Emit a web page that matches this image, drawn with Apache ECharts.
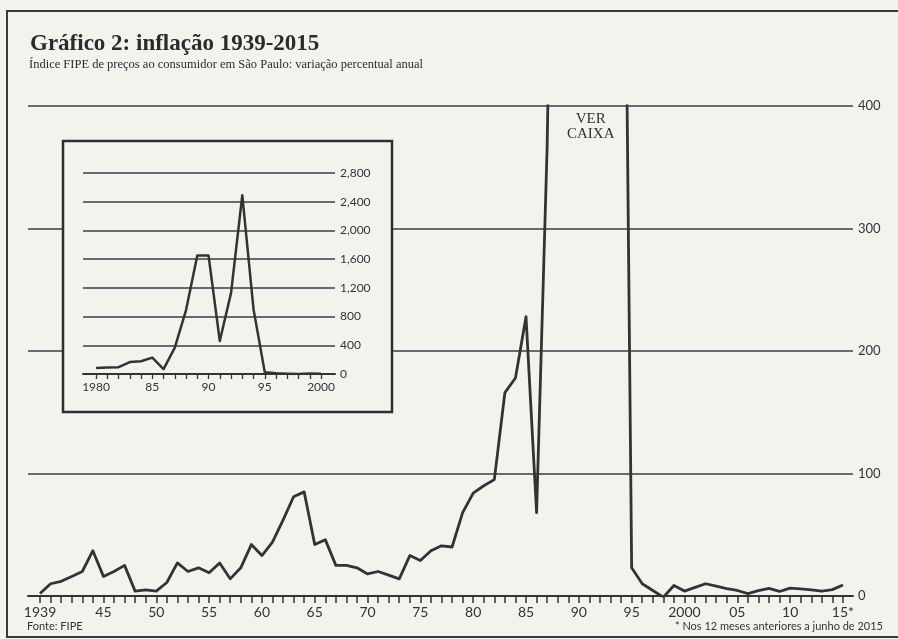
<!DOCTYPE html>
<html>
<head>
<meta charset="utf-8">
<script src="https://cdn.jsdelivr.net/npm/echarts@6/dist/echarts.min.js"></script>
<style>
  html, body { margin: 0; padding: 0; background: #f3f3ee; }
  #chart { width: 898px; height: 639px; }
</style>
</head>
<body>
<div id="chart"></div>
<script>
// FIPE annual inflation, Sao Paulo, 1939-2015 (% per year)
var years = [];
for (var y = 1939; y <= 2015; y++) years.push(y);

var inflation = [
  2, 10, 12, 16, 20, 37, 16, 20, 25, 4,          // 1939-1948
  5, 4, 11, 27, 20, 23, 19, 27, 14, 23,          // 1949-1958
  42, 33, 44, 62, 81, 85, 42, 46, 25, 25,        // 1959-1968
  23, 18, 20, 17, 14, 33, 29, 37, 41, 40,        // 1969-1978
  68, 84, 90, 95, 166, 178, 228, 68, 367, 890,   // 1979-1988
  1650, 1650, 460, 1130, 2490, 900, 23, 10, 4.5, -1, // 1989-1998
  8.6, 4, 7, 10, 8, 6, 4.5, 2, 4.4, 6.2,         // 1999-2008
  3.7, 6.4, 5.8, 5, 3.9, 5.2, 9                  // 2009-2015
];

var mainLabelYears = [1939, 1945, 1950, 1955, 1960, 1965, 1970, 1975, 1980, 1985,
  1990, 1995, 2000, 2005, 2010, 2015];
var mainLabelText = ['1939', '45', '50', '55', '60', '65', '70', '75', '80', '85',
  '90', '95', '2000', '05', '10', '15*'];

var insetFrom = 1980, insetTo = 2000;
var insetLabelYears = [1980, 1985, 1990, 1995, 2000];
var insetLabelText = ['1980', '85', '90', '95', '2000'];

var mainData = years.map(function (yr, i) { return [yr, inflation[i]]; });
var insetData = mainData.filter(function (d) { return d[0] >= insetFrom && d[0] <= insetTo; });
var insetTicks = insetData.map(function (d) { return d[0]; });

var ink = '#333333';
var gridGrey = '#6a6a6a';
var sans = 'Lato, "Open Sans", sans-serif';
var serif = '"Liberation Serif", "DejaVu Serif", serif';

function lookup(keys, texts) {
  return function (v) {
    var i = keys.indexOf(Math.round(v));
    return i < 0 ? '' : texts[i];
  };
}

var chart = echarts.init(document.getElementById('chart'), null, { renderer: 'canvas' });

chart.setOption({
  animation: false,
  backgroundColor: '#f3f3ee',
  title: [{
    text: 'Gráfico 2: inflação 1939-2015',
    left: 30, top: 33, padding: 0,
    textStyle: { fontFamily: serif, fontWeight: 'bold', fontSize: 23, color: '#2b2b2b' }
  }, {
    text: 'Índice FIPE de preços ao consumidor em São Paulo: variação percentual anual',
    left: 29, top: 58, padding: 0,
    textStyle: { fontFamily: serif, fontWeight: 'normal', fontSize: 12.5, color: '#2b2b2b' }
  }, {
    text: 'Fonte: FIPE',
    left: 27, top: 621, padding: 0,
    textStyle: { fontFamily: sans, fontWeight: 'normal', fontSize: 11, color: ink }
  }, {
    text: '* Nos 12 meses anteriores a junho de 2015',
    right: 15, top: 621, padding: 0,
    textStyle: { fontFamily: sans, fontWeight: 'normal', fontSize: 11, color: ink }
  }],
  grid: [
    { left: 28, right: 45, top: 106, bottom: 43 },
    { left: 83, right: 563, top: 173, bottom: 265, z: 11 }
  ],
  xAxis: [{
    gridIndex: 0,
    type: 'value',
    min: 1937.86, max: 2015.95,
    axisLine: { show: true, onZero: false, lineStyle: { color: ink, width: 2 } },
    axisTick: { show: true, inside: false, length: 7, customValues: years,
      lineStyle: { color: ink, width: 1.5 } },
    axisLabel: { customValues: mainLabelYears, formatter: lookup(mainLabelYears, mainLabelText),
      margin: 9, fontFamily: sans, fontSize: 14, color: ink },
    splitLine: { show: false }
  }, {
    gridIndex: 1,
    type: 'value',
    min: 1978.84, max: 2001.24,
    z: 11,
    axisLine: { show: true, onZero: false, lineStyle: { color: ink, width: 2 } },
    axisTick: { show: true, length: 5, customValues: insetTicks,
      lineStyle: { color: ink, width: 1.3 } },
    axisLabel: { customValues: insetLabelYears, formatter: lookup(insetLabelYears, insetLabelText),
      margin: 7, fontFamily: sans, fontSize: 12, color: ink },
    splitLine: { show: false }
  }],
  yAxis: [{
    gridIndex: 0,
    type: 'value',
    position: 'right',
    min: 0, max: 400, interval: 100,
    axisLine: { show: false },
    axisTick: { show: false },
    axisLabel: { margin: 5, fontFamily: sans, fontSize: 13, color: ink },
    splitLine: { show: true, lineStyle: { color: gridGrey, width: 2 } }
  }, {
    gridIndex: 1,
    type: 'value',
    position: 'right',
    min: 0, max: 2800, interval: 400,
    z: 11,
    axisLine: { show: false },
    axisTick: { show: false },
    axisLabel: { margin: 5, fontFamily: sans, fontSize: 12, color: ink,
      formatter: function (v) { return v.toLocaleString('en-US'); } },
    splitLine: { show: true, lineStyle: { color: gridGrey, width: 2 } }
  }],
  series: [{
    type: 'line',
    xAxisIndex: 0, yAxisIndex: 0,
    data: mainData,
    clip: true,
    showSymbol: false,
    silent: true,
    z: 3,
    lineStyle: { color: ink, width: 2.8, join: 'round' }
  }, {
    type: 'line',
    xAxisIndex: 1, yAxisIndex: 1,
    data: insetData,
    clip: true,
    showSymbol: false,
    silent: true,
    z: 12,
    lineStyle: { color: ink, width: 2.5, join: 'round' }
  }],
  graphic: [{
    type: 'polyline',
    z: 20,
    shape: { points: [[898, 11], [7, 11], [7, 637], [898, 637]] },
    style: { fill: null, stroke: '#3a3a3a', lineWidth: 2 }
  }, {
    type: 'rect',
    z: 10,
    shape: { x: 63, y: 141, width: 329, height: 271 },
    style: { fill: '#f3f3ee', stroke: '#2e2e2e', lineWidth: 2.5 }
  }, {
    type: 'text',
    z: 10,
    left: 567, top: 112,
    style: { text: 'VER\nCAIXA', fill: ink, font: '15px ' + serif, textAlign: 'center',
      lineHeight: 15, width: 42 }
  }]
});
</script>
</body>
</html>
